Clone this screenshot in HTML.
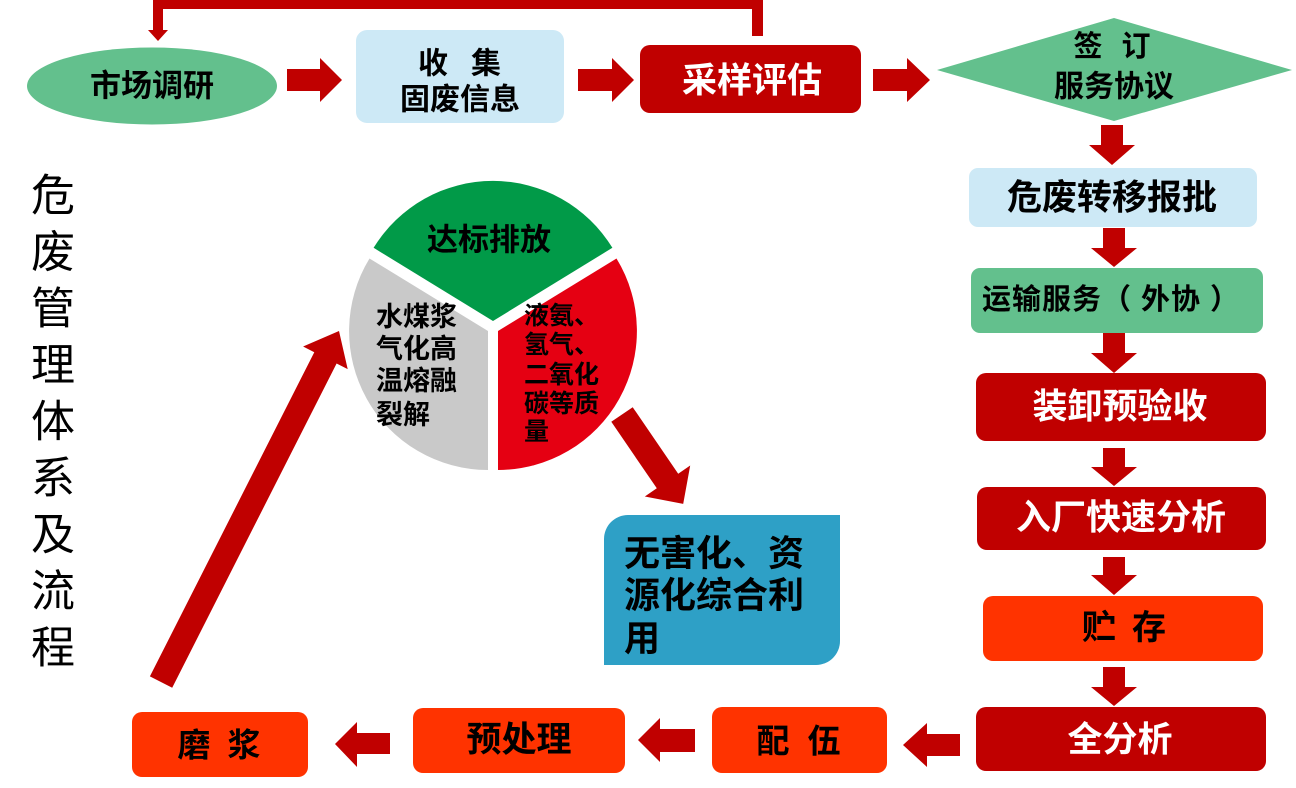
<!DOCTYPE html>
<html>
<head>
<meta charset="utf-8">
<style>
html,body{margin:0;padding:0;background:#fff;}
svg{display:block;}
text{font-family:"Liberation Sans","Noto Sans CJK SC",sans-serif;font-weight:bold;dominant-baseline:central;}
.m{text-anchor:middle;}
.w{fill:#fff;}
</style>
</head>
<body>
<svg width="1296" height="788" viewBox="0 0 1296 788" xmlns="http://www.w3.org/2000/svg">
  <!-- top return connector -->
  <rect x="153" y="0" width="610" height="9" fill="#C00000"/>
  <rect x="153" y="0" width="10" height="31" fill="#C00000"/>
  <polygon points="148,30 168,30 158,41" fill="#C00000"/>
  <rect x="752" y="0" width="11" height="36" fill="#C00000"/>

  <!-- market research ellipse -->
  <ellipse cx="152" cy="86" rx="125" ry="38.5" fill="#63C08D"/>
  <text x="152" y="86" class="m" font-size="31">市场调研</text>

  <!-- right arrows -->
  <polygon points="287,69 320,69 320,58 342,80 320,102 320,91 287,91" fill="#C00000"/>
  <polygon points="578,69 612,69 612,58 634,80 612,102 612,91 578,91" fill="#C00000"/>
  <polygon points="873,69 907,69 907,58 930,80 907,102 907,91 873,91" fill="#C00000"/>

  <!-- collect box -->
  <rect x="356" y="30" width="208" height="93" rx="11" fill="#CDE9F6"/>
  <text x="433" y="64" class="m" font-size="30">收</text>
  <text x="486" y="64" class="m" font-size="30">集</text>
  <text x="460" y="100" class="m" font-size="30">固废信息</text>

  <!-- sampling box -->
  <rect x="640" y="45" width="221" height="68" rx="10" fill="#C00000"/>
  <text x="752" y="81" class="m w" font-size="35">采样评估</text>

  <!-- diamond -->
  <polygon points="937,70 1114,18 1292,70 1114,121" fill="#63C08D"/>
  <text x="1088" y="47" class="m" font-size="29">签</text>
  <text x="1136" y="47" class="m" font-size="29">订</text>
  <text x="1114" y="87" class="m" font-size="30">服务协议</text>

  <!-- down arrows -->
  <polygon points="1101,125 1123,125 1123,145 1135,145 1112,165 1089,145 1101,145" fill="#C00000"/>
  <polygon points="1103,228 1125,228 1125,248 1137,248 1114,267 1091,248 1103,248" fill="#C00000"/>
  <polygon points="1103,333 1125,333 1125,353 1137,353 1114,373 1091,353 1103,353" fill="#C00000"/>
  <polygon points="1103,448 1125,448 1125,467 1137,467 1114,486 1091,467 1103,467" fill="#C00000"/>
  <polygon points="1103,557 1125,557 1125,575 1137,575 1114,595 1091,575 1103,575" fill="#C00000"/>
  <polygon points="1103,667 1125,667 1125,687 1137,687 1114,706 1091,687 1103,687" fill="#C00000"/>

  <!-- right column boxes -->
  <rect x="969" y="168" width="288" height="59" rx="9" fill="#CDE9F6"/>
  <text x="1112" y="198" class="m" font-size="35">危废转移报批</text>

  <rect x="971" y="268" width="292" height="65" rx="9" fill="#63C08D"/>
  <text x="1111" y="300" class="m" font-size="29" letter-spacing="1">运输服务（ 外协 ）</text>

  <rect x="976" y="373" width="290" height="68" rx="10" fill="#C00000"/>
  <text x="1120" y="407" class="m w" font-size="35">装卸预验收</text>

  <rect x="977" y="487" width="289" height="63" rx="10" fill="#C00000"/>
  <text x="1121" y="518" class="m w" font-size="35">入厂快速分析</text>

  <rect x="983" y="596" width="280" height="65" rx="10" fill="#FF3300"/>
  <text x="1099" y="628" class="m" font-size="34">贮</text>
  <text x="1149" y="628" class="m" font-size="34">存</text>

  <rect x="976" y="707" width="290" height="64" rx="10" fill="#C00000"/>
  <text x="1120" y="740" class="m w" font-size="35">全分析</text>

  <!-- left arrows bottom -->
  <polygon points="960,734 927,734 927,723 903,745 927,767 927,756 960,756" fill="#C00000"/>
  <polygon points="695,729 660,729 660,718 638,740 660,762 660,752 695,752" fill="#C00000"/>
  <polygon points="390,733 357,733 357,722 335,744 357,767 357,754 390,754" fill="#C00000"/>

  <!-- bottom boxes -->
  <rect x="712" y="707" width="175" height="66" rx="10" fill="#FF3300"/>
  <text x="773" y="741" class="m" font-size="33">配</text>
  <text x="824" y="741" class="m" font-size="33">伍</text>

  <rect x="413" y="708" width="212" height="65" rx="10" fill="#FF3300"/>
  <text x="519" y="740" class="m" font-size="35">预处理</text>

  <rect x="132" y="712" width="176" height="65" rx="10" fill="#FF3300"/>
  <text x="194" y="745" class="m" font-size="33">磨</text>
  <text x="244" y="745" class="m" font-size="33">浆</text>

  <!-- diagonal arrow bottom-left to pie -->
  <polygon points="172.2,687.7 336.6,363.5 347.7,369.1 339,331 303.1,346.5 314.3,352.2 149.9,676.4" fill="#C00000"/>

  <!-- pie -->
  <path d="M493,321 L373.6,247.8 A140,140 0 0 1 612.4,247.8 Z" fill="#019A48"/>
  <path d="M488,331 L488,470 A139,139 0 0 1 369.5,258.5 Z" fill="#C9C9C9"/>
  <path d="M498,331 L616.5,258.5 A139,139 0 0 1 498,470 Z" fill="#E50012"/>

  <text x="489" y="240" class="m" font-size="31">达标排放</text>

  <g font-size="27">
    <text x="376" y="317">水煤浆</text>
    <text x="376" y="349">气化高</text>
    <text x="376" y="381">温熔融</text>
    <text x="376" y="415">裂解</text>
  </g>
  <g font-size="25">
    <text x="524" y="316">液氨、</text>
    <text x="524" y="345">氢气、</text>
    <text x="524" y="375">二氧化</text>
    <text x="524" y="404">碳等质</text>
    <text x="524" y="432">量</text>
  </g>

  <!-- arrow pie to blue box -->
  <polygon points="632.7,407.2 678.2,473.7 690.2,465.5 683.2,503.9 644.8,496.5 656.8,488.3 611.3,421.8" fill="#C00000"/>

  <!-- blue box -->
  <path d="M604,539 A24,24 0 0 1 628,515 L840,515 L840,641 A24,24 0 0 1 816,665 L604,665 Z" fill="#2EA0C6"/>
  <g font-size="36">
    <text x="624" y="553">无害化、资</text>
    <text x="624" y="595">源化综合利</text>
    <text x="624" y="638">用</text>
  </g>

  <!-- vertical title -->
  <g font-size="44">
    <text x="53" y="196" class="m" style="font-weight:normal">危</text>
    <text x="53" y="252.5" class="m" style="font-weight:normal">废</text>
    <text x="53" y="309" class="m" style="font-weight:normal">管</text>
    <text x="53" y="365.5" class="m" style="font-weight:normal">理</text>
    <text x="53" y="422" class="m" style="font-weight:normal">体</text>
    <text x="53" y="478.5" class="m" style="font-weight:normal">系</text>
    <text x="53" y="535" class="m" style="font-weight:normal">及</text>
    <text x="53" y="591.5" class="m" style="font-weight:normal">流</text>
    <text x="53" y="648" class="m" style="font-weight:normal">程</text>
  </g>
</svg>
</body>
</html>
